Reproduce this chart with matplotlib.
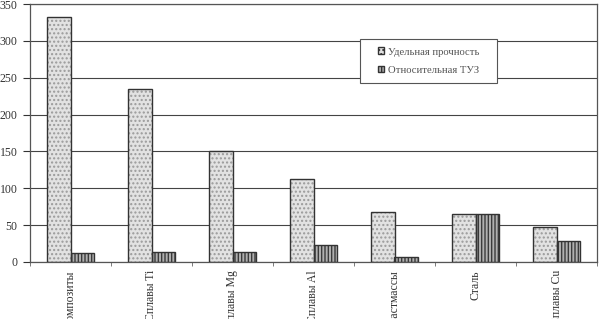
import numpy as np
import matplotlib
matplotlib.use('Agg')
import matplotlib.pyplot as plt
from matplotlib.patches import Patch, Rectangle

plt.rcParams['font.family'] = ['Liberation Serif', 'DejaVu Serif']

categories = ['Композиты', 'Сплавы Ti', 'Сплавы Mg', 'Сплавы Al',
              'Пластмассы', 'Сталь', 'Сплавы Cu']
strength = [333, 235, 150, 113, 68, 65, 48]
rel_tuz = [12, 13, 14, 23, 7, 65, 28]
series_names = ['Удельная прочность', 'Относительная ТУЗ']

ink = '#333333'
fig = plt.figure(figsize=(6.0, 3.19), dpi=100)
ax = fig.add_axes([0.05, 0.179, 0.945, 0.808])

x = np.arange(len(categories))
w = 0.29

# fills with hatch, then plain outline on top
ax.bar(x - w/2, strength, w, color='#e2e2e2', edgecolor='#9a9a9a',
       hatch='....', linewidth=0, zorder=2)
ax.bar(x + w/2, rel_tuz, w, color='#b0b0b0', edgecolor='#3a3a3a',
       hatch='|||||', linewidth=0, zorder=2)
ax.bar(x - w/2, strength, w, fill=False, edgecolor=ink, linewidth=1.0, zorder=3)
ax.bar(x + w/2, rel_tuz, w, fill=False, edgecolor=ink, linewidth=1.0, zorder=3)

ax.set_xlim(-0.5, len(categories) - 0.5)
ax.set_ylim(0, 350)
ax.set_yticks(range(0, 351, 50))
ax.yaxis.grid(True, color='#444444', linewidth=0.8)
ax.set_axisbelow(True)

ax.set_xticks(x)
ax.set_xticklabels(categories, rotation=90, fontsize=8.5, color=ink)
ax.tick_params(axis='x', which='major', length=0, pad=6)
ax.set_xticks(np.arange(len(categories) + 1) - 0.5, minor=True)
ax.tick_params(axis='x', which='minor', length=3, color='#666666')
ax.tick_params(axis='y', length=5, labelsize=8.5, colors=ink, pad=4)

for s in ax.spines.values():
    s.set_color('#555555')
    s.set_linewidth(0.9)

# legend box drawn separately for wide side padding
ax.add_patch(Rectangle((0.582, 0.694), 0.2416, 0.1705, transform=ax.transAxes,
                       facecolor='white', edgecolor='#555555', linewidth=0.8,
                       zorder=4))
handles = [Patch(facecolor='#e2e2e2', edgecolor=ink, hatch='....'),
           Patch(facecolor='#b0b0b0', edgecolor=ink, hatch='|||||')]
leg = ax.legend(handles, series_names, loc='center',
                bbox_to_anchor=(0.703, 0.779), fontsize=7.7,
                frameon=False, handlelength=0.6, handleheight=0.6,
                handletextpad=0.4, labelspacing=0.85, borderpad=0,
                borderaxespad=0)
leg.set_zorder(5)
for t in leg.get_texts():
    t.set_color('#555555')

fig.savefig('out.png', dpi=100)
